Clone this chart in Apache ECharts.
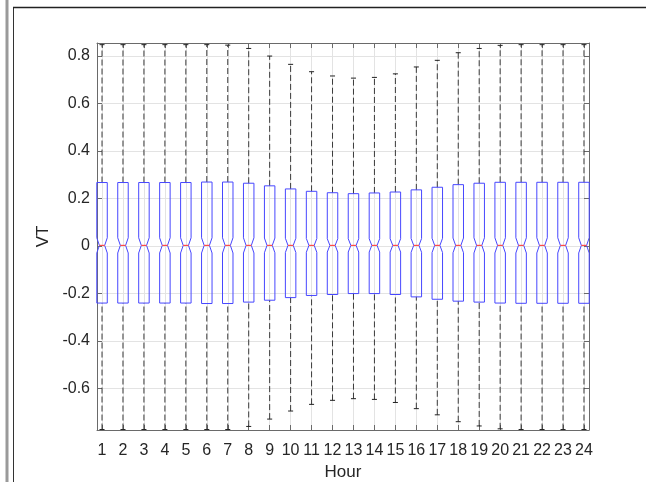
<!DOCTYPE html>
<html>
<head>
<meta charset="utf-8">
<title>VT by Hour</title>
<script src="https://cdn.jsdelivr.net/npm/echarts@6/dist/echarts.min.js"></script>
<style>
  html, body { margin: 0; padding: 0; background: #ffffff; }
  #chart { width: 646px; height: 482px; }
</style>
</head>
<body>
<div id="chart"></div>
<script>
// Hour of day (one notched box per hour)
const hours = [1, 2, 3, 4, 5, 6, 7, 8, 9, 10, 11, 12, 13, 14, 15, 16, 17, 18, 19, 20, 21, 22, 23, 24];

// Whisker ends
const whiskerHigh = [0.848, 0.848, 0.848, 0.848, 0.848, 0.848, 0.846, 0.832, 0.800, 0.765, 0.734, 0.716,
                     0.707, 0.710, 0.725, 0.754, 0.782, 0.814, 0.832, 0.845, 0.848, 0.848, 0.848, 0.848];
const whiskerLow  = [-0.774, -0.774, -0.774, -0.774, -0.774, -0.774, -0.774, -0.761, -0.730, -0.696, -0.668, -0.651,
                     -0.644, -0.647, -0.660, -0.686, -0.712, -0.741, -0.759, -0.771, -0.774, -0.774, -0.774, -0.774];

// Quartiles and medians
const upperQuartile = [0.267, 0.267, 0.267, 0.267, 0.267, 0.269, 0.269, 0.264, 0.253, 0.240, 0.230, 0.224,
                       0.220, 0.223, 0.227, 0.236, 0.247, 0.258, 0.264, 0.268, 0.268, 0.268, 0.268, 0.268];
const lowerQuartile = [-0.241, -0.241, -0.241, -0.241, -0.241, -0.243, -0.243, -0.237, -0.229, -0.218, -0.209, -0.205,
                       -0.201, -0.201, -0.205, -0.215, -0.225, -0.233, -0.237, -0.241, -0.242, -0.242, -0.242, -0.242];
const medians = [0.002, 0.002, 0.002, 0.002, 0.002, 0.002, 0.002, 0.002, 0.002, 0.002, 0.002, 0.002,
                 0.002, 0.002, 0.002, 0.002, 0.002, 0.002, 0.002, 0.002, 0.002, 0.002, 0.002, 0.002];

// Half-height of each notch around the median
const notchHalf = [0.032, 0.032, 0.032, 0.032, 0.032, 0.032, 0.032, 0.032, 0.031, 0.030, 0.029, 0.028,
                   0.028, 0.028, 0.028, 0.029, 0.030, 0.031, 0.032, 0.032, 0.032, 0.032, 0.032, 0.032];

// Value tick labels
const yTickLabels = ['-0.6', '-0.4', '-0.2', '0', '0.2', '0.4', '0.6', '0.8'];

const boxData = hours.map((h, i) => [h, whiskerLow[i], lowerQuartile[i], medians[i], upperQuartile[i], whiskerHigh[i], notchHalf[i]]);

const FONT = "'Liberation Sans', Arial, Helvetica, sans-serif";
const AXIS_COLOR = '#6a6a6a';
const TEXT_COLOR = '#262626';
const GRID_COLOR = '#e3e3e3';

const BOX_HALF = 0.25;   // half box width in hour units
const CAP_HALF = 0.12;   // half whisker-cap width in hour units

function renderBox(params, api) {
  const x = api.value(0);
  const lo = api.value(1), q1 = api.value(2), med = api.value(3), q3 = api.value(4), hi = api.value(5), nh = api.value(6);
  const c = (xx, yy) => api.coord([xx, yy]);
  const boxPts = [
    c(x - BOX_HALF, q3), c(x + BOX_HALF, q3), c(x + BOX_HALF, med + nh), c(x + BOX_HALF / 2, med),
    c(x + BOX_HALF, med - nh), c(x + BOX_HALF, q1), c(x - BOX_HALF, q1), c(x - BOX_HALF, med - nh),
    c(x - BOX_HALF / 2, med), c(x - BOX_HALF, med + nh)
  ];
  const line = (a, b, style) => ({
    type: 'line',
    shape: { x1: a[0], y1: a[1], x2: b[0], y2: b[1] },
    style: Object.assign({ stroke: '#333333', lineWidth: 1 }, style)
  });
  const dash = { lineDash: [6, 3], stroke: '#3a3a3a' };
  return {
    type: 'group',
    children: [
      line(c(x, q3), c(x, hi), dash),
      line(c(x, lo), c(x, q1), dash),
      line(c(x - CAP_HALF, hi), c(x + CAP_HALF, hi), { stroke: '#222222' }),
      line(c(x - CAP_HALF, lo), c(x + CAP_HALF, lo), { stroke: '#222222' }),
      {
        type: 'polygon',
        shape: { points: boxPts },
        style: { fill: 'rgba(0,0,0,0)', stroke: '#4747ff', lineWidth: 1 }
      },
      line(c(x - BOX_HALF / 2, med), c(x + BOX_HALF / 2, med), { stroke: '#ff4a4a', lineWidth: 1.2 })
    ]
  };
}

function isOnStep(v, step) {
  return Math.abs(v / step - Math.round(v / step)) < 1e-6;
}

const chart = echarts.init(document.getElementById('chart'), null, { renderer: 'canvas' });

const xCommon = {
  type: 'value',
  min: 0.76,
  max: 24.24,
  minInterval: 1,
  maxInterval: 1,
  splitNumber: 24,
  axisLine: { show: true, onZero: false, lineStyle: { color: AXIS_COLOR, width: 1 } },
  axisTick: { show: true, inside: true, length: 5, lineStyle: { color: AXIS_COLOR } }
};
const yCommon = {
  type: 'value',
  min: -0.776,
  max: 0.855,
  minInterval: 0.2,
  maxInterval: 0.2,
  splitNumber: 8,
  axisLine: { show: true, onZero: false, lineStyle: { color: AXIS_COLOR, width: 1 } },
  axisTick: { show: true, inside: true, length: 5, lineStyle: { color: AXIS_COLOR } }
};

chart.setOption({
  animation: false,
  backgroundColor: '#ffffff',
  textStyle: { fontFamily: FONT },
  grid: { left: 97, right: 57, top: 43, bottom: 52, containLabel: false, outerBoundsMode: 'none' },
  xAxis: [
    Object.assign({}, xCommon, {
      position: 'bottom',
      name: 'Hour',
      nameLocation: 'middle',
      nameGap: 34,
      nameTextStyle: { fontFamily: FONT, fontSize: 17, color: TEXT_COLOR },
      axisLabel: {
        show: true, margin: 13, fontFamily: FONT, fontSize: 16, color: TEXT_COLOR,
        showMinLabel: true, showMaxLabel: true,
        formatter: v => (isOnStep(v, 1) ? String(Math.round(v)) : '')
      },
      splitLine: { show: true, lineStyle: { color: GRID_COLOR, width: 1 } }
    }),
    Object.assign({}, xCommon, {
      position: 'top',
      axisLabel: { show: false },
      splitLine: { show: false }
    })
  ],
  yAxis: [
    Object.assign({}, yCommon, {
      position: 'left',
      name: 'VT',
      nameLocation: 'middle',
      nameGap: 41,
      nameRotate: 90,
      nameTextStyle: { fontFamily: FONT, fontSize: 17, color: TEXT_COLOR },
      axisLabel: {
        show: true, margin: 7, fontFamily: FONT, fontSize: 16, color: TEXT_COLOR,
        formatter: v => {
          if (!isOnStep(v, 0.2)) return '';
          const idx = Math.round(v / 0.2) + 3;
          return yTickLabels[idx] !== undefined ? yTickLabels[idx] : '';
        }
      },
      splitLine: { show: true, lineStyle: { color: GRID_COLOR, width: 1 } }
    }),
    Object.assign({}, yCommon, {
      position: 'right',
      axisLabel: { show: false },
      splitLine: { show: false }
    })
  ],
  graphic: [
    // window frame edges
    { type: 'line', shape: { x1: 7, y1: 0, x2: 7, y2: 482 }, style: { stroke: '#9a9a9a', lineWidth: 3 }, silent: true },
    { type: 'line', shape: { x1: 13.5, y1: 7, x2: 13.5, y2: 482 }, style: { stroke: '#333333', lineWidth: 1 }, silent: true },
    { type: 'line', shape: { x1: 13, y1: 7.5, x2: 646, y2: 7.5 }, style: { stroke: '#222222', lineWidth: 1.5 }, silent: true }
  ],
  series: [{
    type: 'custom',
    xAxisIndex: 0,
    yAxisIndex: 0,
    renderItem: renderBox,
    encode: { x: 0, y: [1, 2, 3, 4, 5] },
    data: boxData,
    z: 5
  }]
});
</script>
</body>
</html>
